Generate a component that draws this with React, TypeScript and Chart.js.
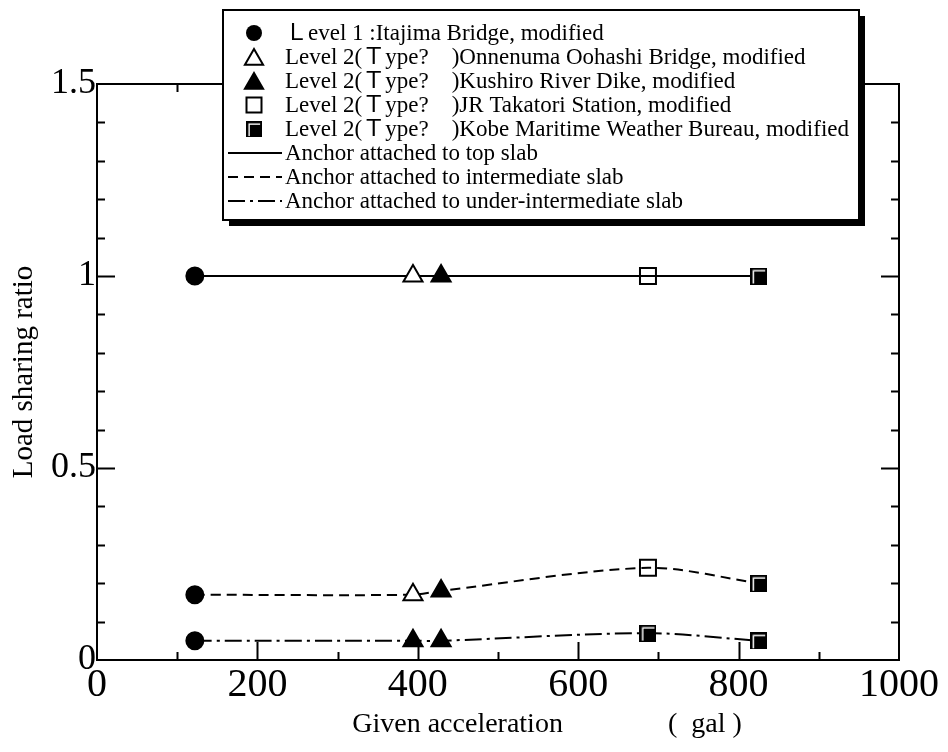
import React, { useEffect, useRef } from 'react';
import { Chart, registerables } from 'chart.js';

Chart.register(...registerables);

// ---- data ----
const accel = [122, 394, 429, 687, 825];
const topSlab = [1, 1, 1, 1, 1];
const midSlab = [0.17, 0.17, 0.18, 0.24, 0.2];
const underSlab = [0.05, 0.05, 0.05, 0.07, 0.05];

const siteNames = [
  'Ｌevel 1 :Itajima Bridge, modified',
  'Level 2(Ｔype?\u3000)Onnenuma Oohashi Bridge, modified',
  'Level 2(Ｔype?\u3000)Kushiro River Dike, modified',
  'Level 2(Ｔype?\u3000)JR Takatori Station, modified',
  'Level 2(Ｔype?\u3000)Kobe Maritime Weather Bureau, modified',
];
const lineNames = [
  'Anchor attached to top slab',
  'Anchor attached to intermediate slab',
  'Anchor attached to under-intermediate slab',
];
// marker kind for each site at [top, intermediate, under-intermediate]
const siteMarkers = [
  ['circle', 'circle', 'circle'],
  ['openTri', 'openTri', 'tri'],
  ['tri', 'tri', 'tri'],
  ['openSq', 'openSq', 'gloss'],
  ['gloss', 'gloss', 'gloss'],
];
const xTickLabels = ['0', '200', '400', '600', '800', '1000'];
const yTickLabels = ['0', '0.5', '1', '1.5'];
const xTitle = 'Given acceleration';
const xUnit = '(  gal )';
const yTitle = 'Load sharing ratio';

const SERIF = "'Liberation Serif', 'Times New Roman', 'Noto Sans CJK JP', serif";
const DASHES = [[], [10, 6], [17, 5, 3, 5]];

function makeGloss(): HTMLCanvasElement {
  const c = document.createElement('canvas');
  c.width = 17;
  c.height = 17;
  const g = c.getContext('2d')!;
  g.fillStyle = '#000';
  g.fillRect(0, 0, 17, 17);
  g.strokeStyle = '#fff';
  g.lineWidth = 1.5;
  g.beginPath();
  g.moveTo(3.25, 16);
  g.lineTo(3.25, 3.25);
  g.lineTo(15, 3.25);
  g.stroke();
  return c;
}

function styleFor(kind: string, gloss: HTMLCanvasElement) {
  switch (kind) {
    case 'circle':
      return { ps: 'circle', r: 8.5, bg: '#000' };
    case 'openTri':
      return { ps: 'triangle', r: 11, bg: '#fff' };
    case 'tri':
      return { ps: 'triangle', r: 11, bg: '#000' };
    case 'openSq':
      return { ps: 'rect', r: 11.3, bg: 'rgba(0,0,0,0)' };
    default:
      return { ps: gloss, r: 8.5, bg: '#000' };
  }
}

function drawMarker(ctx: CanvasRenderingContext2D, kind: string, x: number, y: number, gloss: HTMLCanvasElement) {
  ctx.save();
  ctx.setLineDash([]);
  ctx.lineWidth = 2;
  ctx.strokeStyle = '#000';
  ctx.beginPath();
  if (kind === 'circle') {
    ctx.arc(x, y, 8, 0, Math.PI * 2);
    ctx.fillStyle = '#000';
    ctx.fill();
  } else if (kind === 'openTri' || kind === 'tri') {
    const r = 10.5;
    for (let i = 0; i < 3; i++) {
      const a = (i * 2 * Math.PI) / 3;
      const px = x + Math.sin(a) * r;
      const py = y + 2.5 - Math.cos(a) * r;
      if (i === 0) ctx.moveTo(px, py);
      else ctx.lineTo(px, py);
    }
    ctx.closePath();
    ctx.fillStyle = kind === 'tri' ? '#000' : '#fff';
    ctx.fill();
    ctx.stroke();
  } else if (kind === 'openSq') {
    ctx.rect(x - 7.5, y - 7.5, 15, 15);
    ctx.fillStyle = '#fff';
    ctx.fill();
    ctx.stroke();
  } else {
    ctx.drawImage(gloss, x - 8, y - 8, 16, 16);
  }
  ctx.restore();
}

const isMultiple = (v: number, step: number) => Math.abs(v / step - Math.round(v / step)) < 1e-6;

export default function App() {
  const ref = useRef<HTMLCanvasElement | null>(null);

  useEffect(() => {
    const canvas = ref.current;
    if (!canvas) return;
    const gloss = makeGloss();

    const lineSeries = [topSlab, midSlab, underSlab];
    const lineDatasets = lineSeries.map((ys, li) => ({
      label: lineNames[li],
      data: ys.map((y, i) => ({ x: accel[i], y })),
      showLine: true,
      borderColor: '#000',
      borderWidth: 2,
      borderDash: DASHES[li],
      pointRadius: 0,
      tension: 0.3,
      order: 2,
    }));

    const markerDatasets = siteNames.map((name, si) => {
      const ys = [topSlab[si], midSlab[si], underSlab[si]];
      const styles = siteMarkers[si].map((k) => styleFor(k, gloss));
      return {
        label: name,
        data: ys.map((y) => ({ x: accel[si], y })),
        showLine: false,
        pointStyle: styles.map((s) => s.ps),
        pointRadius: styles.map((s) => s.r),
        pointBackgroundColor: styles.map((s) => s.bg),
        pointBorderColor: '#000',
        pointBorderWidth: 2,
        order: 1,
      };
    });

    const framePlugin = {
      id: 'frameTicks',
      afterDraw(chart: any) {
        const { ctx, chartArea: a, scales } = chart;
        const xs = scales.x;
        const ys = scales.y;
        ctx.save();
        ctx.strokeStyle = '#000';
        ctx.lineWidth = 2;
        ctx.setLineDash([]);
        ctx.strokeRect(a.left, a.top, a.right - a.left, a.bottom - a.top);
        ctx.beginPath();
        xs.ticks.forEach((t: any) => {
          const v = t.value;
          if (v <= xs.min || v >= xs.max) return;
          const px = Math.round(xs.getPixelForValue(v)) + 0.5;
          const len = isMultiple(v, 200) ? 18 : 8;
          ctx.moveTo(px, a.bottom);
          ctx.lineTo(px, a.bottom - len);
          ctx.moveTo(px, a.top);
          ctx.lineTo(px, a.top + len);
        });
        ys.ticks.forEach((t: any) => {
          const v = t.value;
          if (v <= ys.min + 1e-9 || v >= ys.max - 1e-9) return;
          const py = Math.round(ys.getPixelForValue(v)) + 0.5;
          const len = isMultiple(v, 0.5) ? 18 : 8;
          ctx.moveTo(a.left, py);
          ctx.lineTo(a.left + len, py);
          ctx.moveTo(a.right, py);
          ctx.lineTo(a.right - len, py);
        });
        ctx.stroke();

        // legend box
        const fontPx = 23;
        ctx.font = `${fontPx}px ${SERIF}`;
        const textX = 285;
        const labels = [...siteNames, ...lineNames];
        let maxW = 0;
        labels.forEach((l) => (maxW = Math.max(maxW, ctx.measureText(l).width)));
        const bx = 223;
        const by = 10;
        const bw = textX + maxW + 10 - bx;
        const rowH = 24;
        const firstRow = 33;
        const bh = firstRow - by + rowH * (labels.length - 1) + 19;
        ctx.fillStyle = '#000';
        ctx.fillRect(bx + 6, by + 6, bw, bh);
        ctx.fillStyle = '#fff';
        ctx.fillRect(bx, by, bw, bh);
        ctx.lineWidth = 2;
        ctx.strokeStyle = '#000';
        ctx.strokeRect(bx, by, bw, bh);

        ctx.fillStyle = '#000';
        ctx.textBaseline = 'middle';
        ctx.textAlign = 'left';
        labels.forEach((l, i) => {
          const y = firstRow + i * rowH;
          if (i < siteNames.length) {
            drawMarker(ctx, siteMarkers[i][0], 254, y, gloss);
          } else {
            const li = i - siteNames.length;
            ctx.save();
            ctx.beginPath();
            ctx.setLineDash(DASHES[li]);
            ctx.lineWidth = 2;
            ctx.moveTo(228, y);
            ctx.lineTo(282, y);
            ctx.stroke();
            ctx.restore();
          }
          ctx.fillStyle = '#000';
          ctx.font = `${fontPx}px ${SERIF}`;
          ctx.fillText(l, textX, y + 1);
        });
        ctx.restore();
      },
    };

    const chart = new Chart(canvas, {
      type: 'scatter',
      data: { datasets: [...markerDatasets, ...lineDatasets] as any },
      options: {
        animation: false,
        responsive: false,
        devicePixelRatio: 1,
        layout: { padding: { left: 0, top: 84, right: 49, bottom: 0 } },
        plugins: { legend: { display: false }, tooltip: { enabled: false } },
        scales: {
          x: {
            type: 'linear',
            min: 0,
            max: 1000,
            grid: { display: false, drawTicks: false },
            border: { display: false },
            afterFit: (s: any) => {
              s.height = 92;
            },
            ticks: {
              stepSize: 100,
              autoSkip: false,
              maxRotation: 0,
              padding: 1,
              color: '#000',
              font: { family: SERIF, size: 40 },
              callback: (v: any) => {
                const s = String(v);
                return xTickLabels.includes(s) ? s : '';
              },
            },
            title: {
              display: true,
              text: '              ' + xTitle + '               ' + xUnit,
              color: '#000',
              font: { family: SERIF, size: 28 },
              padding: { top: 0, bottom: 11 },
            },
          },
          y: {
            type: 'linear',
            min: 0,
            max: 1.5,
            grid: { display: false, drawTicks: false },
            border: { display: false },
            afterFit: (s: any) => {
              s.width = 97;
            },
            ticks: {
              stepSize: 0.1,
              autoSkip: false,
              padding: 1,
              color: '#000',
              font: { family: SERIF, size: 36 },
              callback: (v: any) => {
                const n = Number(v);
                if (!isMultiple(n, 0.5)) return '';
                const s = String(Math.round(n * 10) / 10);
                return yTickLabels.includes(s) ? s : '';
              },
            },
            title: {
              display: true,
              text: yTitle,
              color: '#000',
              font: { family: SERIF, size: 29 },
              padding: { top: 7, bottom: 0 },
            },
          },
        },
      },
      plugins: [framePlugin],
    });

    return () => chart.destroy();
  }, []);

  return (
    <div style={{ position: 'fixed', left: 0, top: 0, width: 948, height: 752, background: '#fff' }}>
      <canvas ref={ref} width={948} height={752} style={{ display: 'block' }} />
    </div>
  );
}
